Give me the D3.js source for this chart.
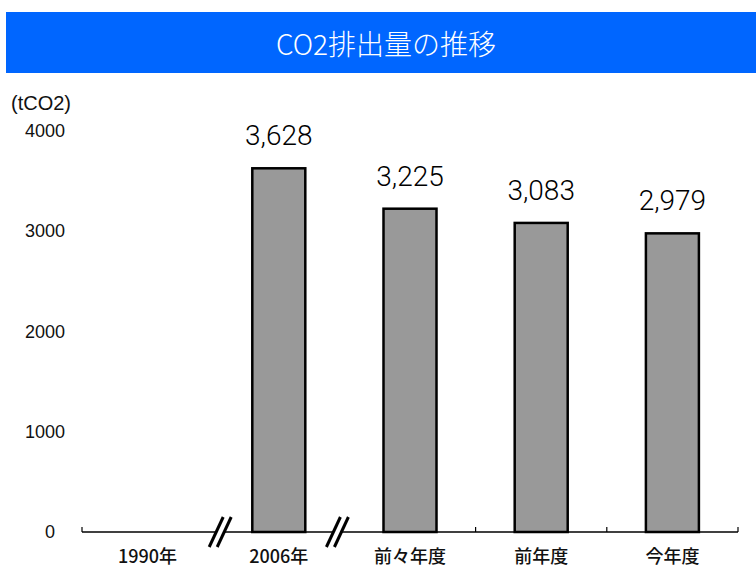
<!DOCTYPE html>
<html>
<head>
<meta charset="utf-8">
<script src="https://cdn.jsdelivr.net/npm/d3@7"></script>
<style>
  html, body { margin: 0; padding: 0; background: #fff; }
  svg { display: block; }
</style>
</head>
<body>
<svg id="chart" width="756" height="567"></svg>
<script>
// CO2 emissions by period (tCO2)
const categories = ["1990年", "2006年", "前々年度", "前年度", "今年度"];
const emissions = [null, 3628, 3225, 3083, 2979];
const yTicks = [0, 1000, 2000, 3000, 4000];
const title = "CO2排出量の推移";
const unitLabel = "(tCO2)";

const W = 756, H = 567;
const svg = d3.select("#chart");
const jp = "'Noto Sans CJK JP', 'Noto Sans', sans-serif";
const num = "'Liberation Sans', Arial, sans-serif";
const val = "Roboto, 'Liberation Sans', sans-serif";

// Title band
svg.append("rect")
  .attr("x", 6).attr("y", 12).attr("width", W - 6).attr("height", 61)
  .attr("fill", "#0066ff");
svg.append("text")
  .attr("x", 386).attr("y", 43)
  .attr("text-anchor", "middle").attr("dominant-baseline", "central")
  .attr("fill", "#fff").attr("font-family", jp).attr("font-size", 28).attr("font-weight", 300)
  .text(title);

// Scales
const x = d3.scaleBand().domain(categories).range([82, 738]).paddingInner(0).paddingOuter(0);
const y = d3.scaleLinear().domain([0, 4000]).range([532, 131]);
const step = x.step();
const barW = 53;

// Unit label
svg.append("text")
  .attr("x", 11).attr("y", 103)
  .attr("dominant-baseline", "central")
  .attr("font-family", num).attr("font-size", 20).attr("fill", "#111")
  .text(unitLabel);

// Y tick labels
svg.append("g").selectAll("text").data(yTicks).join("text")
  .attr("x", d => d === 0 ? 55 : 65)
  .attr("y", d => y(d))
  .attr("text-anchor", "end").attr("dominant-baseline", "central")
  .attr("font-family", num).attr("font-size", 18).attr("fill", "#111")
  .text(d => d);

// Bars
const data = categories.map((c, i) => ({ c, v: emissions[i] })).filter(d => d.v != null);
svg.append("g").selectAll("rect").data(data).join("rect")
  .attr("x", d => x(d.c) + step / 2 - barW / 2)
  .attr("y", d => y(d.v))
  .attr("width", barW)
  .attr("height", d => y(0) - y(d.v))
  .attr("fill", "#999999").attr("stroke", "#000").attr("stroke-width", 2.5);

// Value labels
svg.append("g").selectAll("text").data(data).join("text")
  .attr("x", d => x(d.c) + step / 2)
  .attr("y", d => y(d.v) - 23)
  .attr("text-anchor", "middle")
  .attr("font-family", val).attr("font-size", 28).attr("font-weight", 300).attr("fill", "#000")
  .text(d => d3.format(",")(d.v));

// Category axis line and ticks
svg.append("line")
  .attr("x1", 82).attr("x2", 738).attr("y1", y(0)).attr("y2", y(0))
  .attr("stroke", "#000").attr("stroke-width", 1.3);
const tickXs = [82, ...categories.slice(1).map(c => x(c)), 738];
svg.append("g").selectAll("line").data(tickXs.filter((t, i) => i === 0 || i >= 3)).join("line")
  .attr("x1", d => d).attr("x2", d => d)
  .attr("y1", y(0)).attr("y2", y(0) - 5)
  .attr("stroke", "#000").attr("stroke-width", 1.2);

// Axis break marks between the non-consecutive periods
const breaks = [x(categories[1]) + 7, x(categories[2]) - 7];
const bg = svg.append("g").selectAll("g").data(breaks).join("g")
  .attr("transform", d => `translate(${d},${y(0)})`);
bg.append("polygon")
  .attr("points", "-11,15 -3,15 11,-15 3,-15")
  .attr("fill", "#fff");
bg.append("line").attr("x1", -11).attr("y1", 15).attr("x2", 3).attr("y2", -15)
  .attr("stroke", "#000").attr("stroke-width", 3);
bg.append("line").attr("x1", -3).attr("y1", 15).attr("x2", 11).attr("y2", -15)
  .attr("stroke", "#000").attr("stroke-width", 3);

// Category labels
svg.append("g").selectAll("text").data(categories).join("text")
  .attr("x", d => x(d) + step / 2)
  .attr("y", 555)
  .attr("text-anchor", "middle").attr("dominant-baseline", "central")
  .attr("font-family", jp).attr("font-size", 18).attr("font-weight", 500).attr("fill", "#111")
  .text(d => d);
</script>
</body>
</html>
